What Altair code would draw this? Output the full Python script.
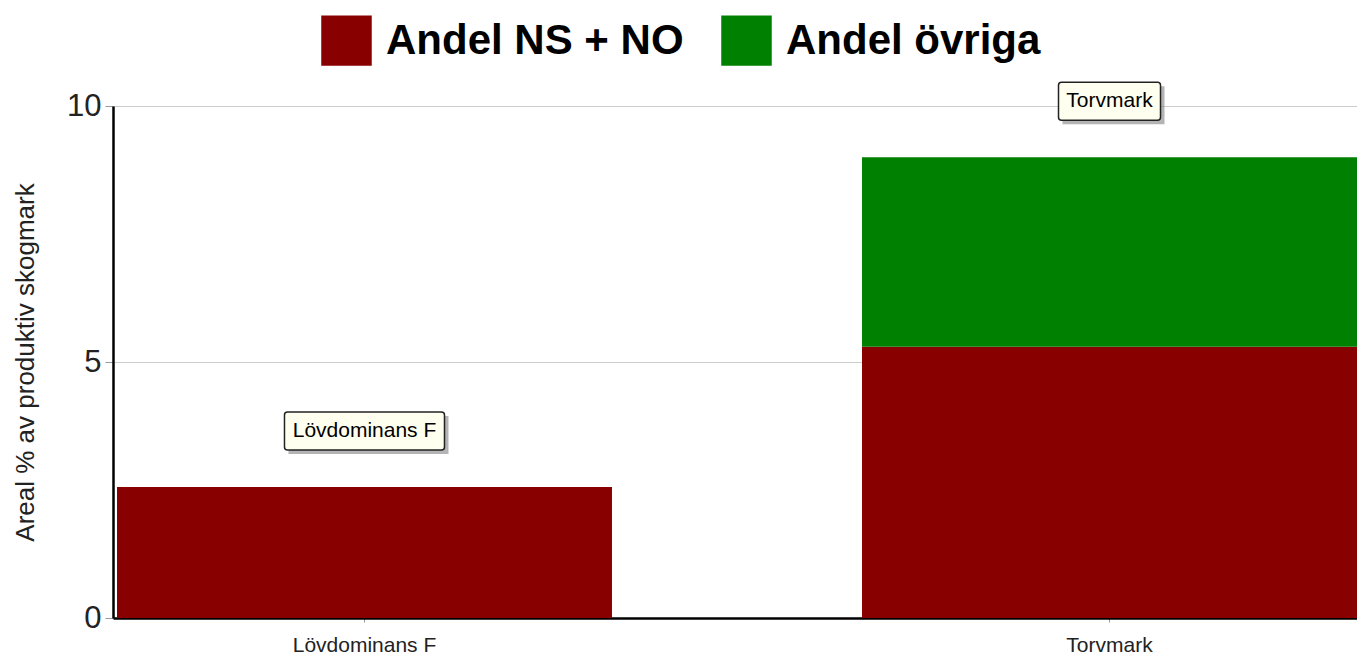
import altair as alt
import pandas as pd

categories = ["Lövdominans F", "Torvmark"]
series_names = ["Andel NS + NO", "Andel övriga"]
andel_ns_no = [2.56, 5.3]
andel_ovriga = [0.0, 3.7]
y_ticks = [0, 5, 10]
colors = ["#880000", "#008000"]

rows = []
for i, c in enumerate(categories):
    rows.append({"kategori": c, "serie": series_names[0], "ordning": 0, "varde": andel_ns_no[i]})
    rows.append({"kategori": c, "serie": series_names[1], "ordning": 1, "varde": andel_ovriga[i]})
df = pd.DataFrame(rows)
tot = pd.DataFrame({"kategori": categories,
                    "total": [a + b for a, b in zip(andel_ns_no, andel_ovriga)]})

FONT = "Liberation Sans"

x_scale = alt.Scale(domain=categories, paddingInner=0.3356, paddingOuter=0.00268, align=1)
x_enc = alt.X("kategori:N", scale=x_scale, sort=categories,
              axis=alt.Axis(title=None, labelAngle=0, labelFont=FONT, labelFontSize=21,
                            labelColor="#222", labelPadding=12, tickSize=4, tickColor="#999",
                            domainColor="black", domainWidth=2.5, grid=False))

bars = alt.Chart(df).mark_bar().encode(
    x=x_enc,
    y=alt.Y("varde:Q", stack="zero", scale=alt.Scale(domain=[0, 10], nice=False),
            axis=alt.Axis(values=y_ticks, title="Areal % av produktiv skogmark",
                          titleFont=FONT, titleFontSize=26, titleFontWeight="normal",
                          titleColor="#222", titleX=-88, titleY=256, titleAngle=270,
                          titleAlign="center", titleBaseline="middle",
                          labelFont=FONT, labelFontSize=31, labelColor="#222",
                          labelPadding=4, tickSize=8, tickColor="#999",
                          domainColor="black", domainWidth=2.5,
                          grid=True, gridColor="#cccccc", gridWidth=1)),
    color=alt.Color("serie:N", scale=alt.Scale(domain=series_names, range=colors),
                    legend=alt.Legend(orient="none", legendX=208, legendY=-91,
                                      direction="horizontal", title=None,
                                      symbolType="square", symbolSize=2550,
                                      symbolStrokeWidth=0, symbolOpacity=1,
                                      labelFont=FONT, labelFontSize=42,
                                      labelFontWeight="bold", labelColor="black",
                                      labelLimit=0,
                                      labelOffset=14, columnPadding=37, padding=0)),
    order=alt.Order("ordning:Q", sort="ascending"),
)

layers = [bars]
for c in categories:
    w = round(len(c) * 11.5 + 10)
    base = alt.Chart(tot).transform_filter(alt.datum.kategori == c)
    shadow = base.mark_bar(width=w, color="#777", opacity=0.55, xOffset=4,
                           yOffset=-71, y2Offset=-33).encode(
        x=alt.X("kategori:N", scale=x_scale, sort=categories),
        y="total:Q", y2="total:Q")
    box = base.mark_bar(width=w, fill="#fffff0", stroke="#222", strokeWidth=1.5,
                        cornerRadius=3, yOffset=-75, y2Offset=-37).encode(
        x=alt.X("kategori:N", scale=x_scale, sort=categories),
        y="total:Q", y2="total:Q")
    layers += [shadow, box]

labels = alt.Chart(tot).mark_text(font=FONT, fontSize=21, dy=-56, baseline="middle",
                                  color="black").encode(
    x=alt.X("kategori:N", scale=x_scale, sort=categories),
    y="total:Q", text="kategori:N")
layers.append(labels)

chart = alt.layer(*layers).properties(
    width=1244, height=512,
    autosize=alt.AutoSizeParams(type="none"),
    padding={"left": 105, "top": 98, "right": 0, "bottom": 38},
).configure_view(stroke=None)

chart.save("out.html", embed_options={"renderer": "svg", "actions": False})
